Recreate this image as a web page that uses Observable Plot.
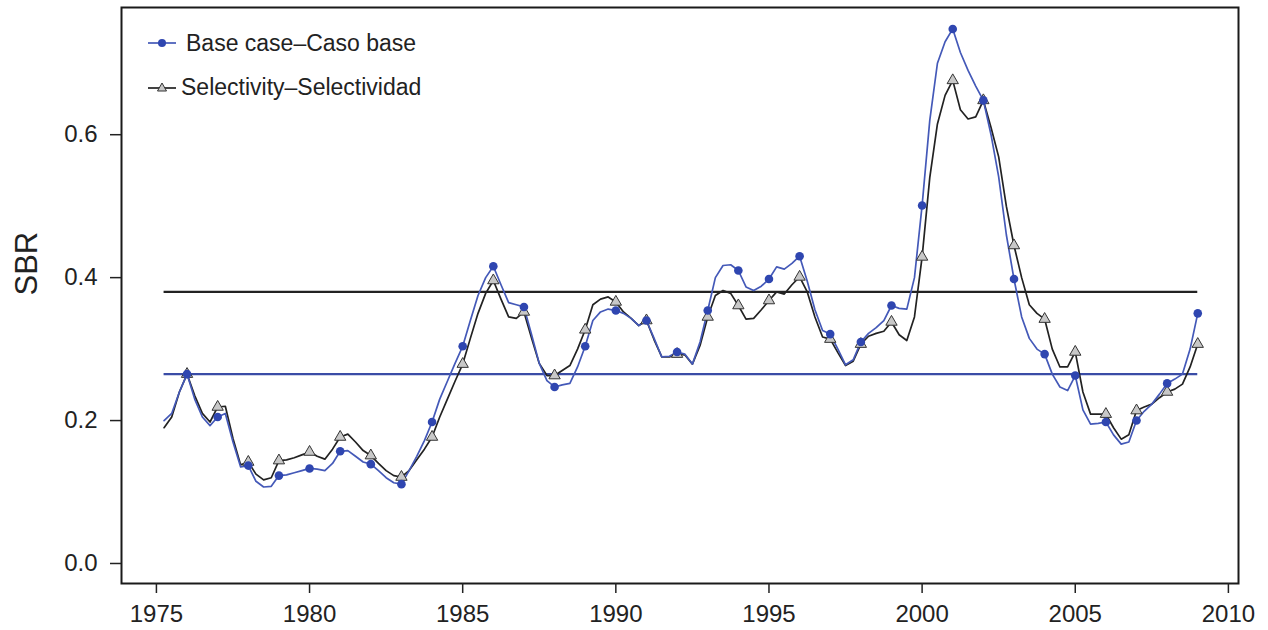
<!DOCTYPE html>
<html>
<head>
<meta charset="utf-8">
<script src="https://cdn.jsdelivr.net/npm/d3@7"></script>
<script src="https://cdn.jsdelivr.net/npm/@observablehq/plot@0.6"></script>
<style>
  body { margin: 0; background: #fff; font-family: "Liberation Sans", Arial, sans-serif; }
  #wrap { position: relative; width: 1268px; height: 630px; }
  #legend { position: absolute; left: 146px; top: 28px; font-size: 23px; color: #222; }
  #legend .row { display: flex; align-items: center; height: 30px; margin-bottom: 14px; }
  #legend svg { margin-right: 8px; }
  g[aria-label="x-axis tick label"], g[aria-label="y-axis tick label"] { font-size: 24px !important; }
  g[aria-label="x-axis tick label"] text, g[aria-label="y-axis tick label"] text { font-size: 24px !important; }
</style>
</head>
<body>
<div id="wrap"></div>
<script>
// Quarterly time axis 1975.25 .. 2009.0
const years = d3.range(1975.25, 2009.001, 0.25);

// Base case – Caso base (blue)
const baseCase = [
  0.200,0.210,0.240,
  0.265,0.230,0.205,0.193,
  0.205,0.210,0.170,0.135,
  0.137,0.115,0.107,0.108,
  0.123,0.124,0.127,0.130,
  0.133,0.132,0.130,0.140,
  0.157,0.158,0.150,0.142,
  0.139,0.130,0.120,0.113,
  0.111,0.130,0.150,0.172,
  0.198,0.230,0.255,0.280,
  0.304,0.340,0.375,0.400,
  0.416,0.390,0.365,0.362,
  0.359,0.320,0.280,0.256,
  0.247,0.250,0.252,0.275,
  0.304,0.340,0.352,0.356,
  0.354,0.350,0.343,0.333,
  0.340,0.315,0.289,0.290,
  0.296,0.293,0.279,0.310,
  0.354,0.400,0.417,0.418,
  0.410,0.387,0.382,0.388,
  0.398,0.415,0.412,0.420,
  0.430,0.395,0.355,0.326,
  0.321,0.300,0.278,0.285,
  0.310,0.322,0.330,0.340,
  0.361,0.357,0.356,0.400,
  0.501,0.620,0.700,0.730,
  0.748,0.715,0.690,0.668,
  0.648,0.600,0.541,0.460,
  0.398,0.345,0.315,0.300,
  0.293,0.265,0.247,0.242,
  0.263,0.215,0.195,0.196,
  0.198,0.180,0.167,0.170,
  0.200,0.213,0.223,0.237,
  0.252,0.258,0.265,0.300,
  0.350
];

// Selectivity – Selectividad (black)
const selectivity = [
  0.190,0.205,0.240,
  0.265,0.235,0.210,0.198,
  0.219,0.220,0.175,0.138,
  0.142,0.125,0.117,0.120,
  0.144,0.145,0.148,0.152,
  0.156,0.150,0.146,0.160,
  0.177,0.181,0.170,0.158,
  0.151,0.140,0.130,0.123,
  0.121,0.130,0.145,0.160,
  0.177,0.205,0.230,0.255,
  0.279,0.315,0.350,0.378,
  0.396,0.370,0.345,0.343,
  0.352,0.315,0.280,0.263,
  0.263,0.270,0.277,0.300,
  0.327,0.362,0.370,0.373,
  0.366,0.352,0.343,0.333,
  0.340,0.313,0.289,0.289,
  0.293,0.292,0.279,0.305,
  0.345,0.375,0.382,0.378,
  0.361,0.342,0.343,0.355,
  0.368,0.380,0.377,0.390,
  0.401,0.380,0.345,0.317,
  0.314,0.295,0.277,0.283,
  0.307,0.318,0.322,0.325,
  0.338,0.320,0.312,0.345,
  0.429,0.540,0.615,0.655,
  0.676,0.635,0.622,0.625,
  0.648,0.610,0.569,0.500,
  0.445,0.400,0.362,0.350,
  0.342,0.300,0.275,0.275,
  0.296,0.240,0.209,0.209,
  0.209,0.190,0.174,0.180,
  0.214,0.219,0.223,0.232,
  0.240,0.244,0.251,0.275,
  0.307
];

// Reference levels
const refValues = [0.38, 0.265];
const refColors = ["#222222", "#3a4ca6"];

const xTicks = [1975, 1980, 1985, 1990, 1995, 2000, 2005, 2010];
const yTicks = [0.0, 0.2, 0.4, 0.6];
const seriesNames = ["Base case\u2013Caso base", "Selectivity\u2013Selectividad"];
const blue = "#4459b8";
const dark = "#222222";

const baseData = years.map((t, i) => ({t, v: baseCase[i]}));
const selData = years.map((t, i) => ({t, v: selectivity[i]}));
const refData = refValues.map((v, i) => ({v, c: refColors[i]}));
const isYear = d => Math.abs(d.t - Math.round(d.t)) < 1e-6;

const chart = Plot.plot({
  width: 1268,
  height: 630,
  marginLeft: 121,
  marginRight: 30,
  marginTop: 7,
  marginBottom: 47,
  style: { fontFamily: "Liberation Sans, Arial, sans-serif", color: "#222", background: "#fff" },
  x: { domain: [1973.86, 2010.33] },
  y: { domain: [-0.028, 0.778] },
  marks: [
    Plot.ruleY(refData, {y: "v", x1: years[0], x2: years[years.length - 1], stroke: "c", strokeWidth: 2.2}),
    Plot.line(selData, {x: "t", y: "v", stroke: dark, strokeWidth: 1.7}),
    Plot.line(baseData, {x: "t", y: "v", stroke: blue, strokeWidth: 1.7}),
    Plot.dot(selData.filter(isYear), {x: "t", y: "v", symbol: "triangle", r: 4.2, fill: "#c8c8c8", stroke: "#333", strokeWidth: 1}),
    Plot.dot(baseData.filter(isYear), {x: "t", y: "v", r: 4.3, fill: "#2f46b0", stroke: "none"}),
    Plot.frame({stroke: "#1a1a1a", strokeWidth: 2}),
    Plot.axisX({ticks: xTicks, tickFormat: d => String(d), tickSize: 10, tickPadding: 11, fontSize: 24, label: null, stroke: "#222", strokeWidth: 1.5}),
    Plot.axisY({ticks: yTicks, tickFormat: d3.format(".1f"), tickSize: 11, tickPadding: 13, fontSize: 24, label: null, stroke: "#222", strokeWidth: 1.5}),
    Plot.text(["SBR"], {frameAnchor: "left", rotate: -90, dx: -94, fontSize: 31, fill: "#222"})
  ]
});

const wrap = document.getElementById("wrap");
wrap.appendChild(chart);

// Legend (inside plot area, top-left)
const legend = document.createElement("div");
legend.id = "legend";
legend.innerHTML = `
  <div class="row"><svg width="32" height="14"><line x1="2" y1="7" x2="30" y2="7" stroke="${blue}" stroke-width="1.7"/><circle cx="16" cy="7" r="4" fill="#2f46b0"/></svg><span>${seriesNames[0]}</span></div>
  <div class="row"><svg width="32" height="14" style="margin-right:3px"><line x1="2" y1="8" x2="30" y2="8" stroke="${dark}" stroke-width="1.7"/><path d="M16,3 L20.5,11 L11.5,11 Z" fill="#c8c8c8" stroke="#333" stroke-width="1"/></svg><span>${seriesNames[1]}</span></div>`;
wrap.appendChild(legend);
</script>
</body>
</html>
